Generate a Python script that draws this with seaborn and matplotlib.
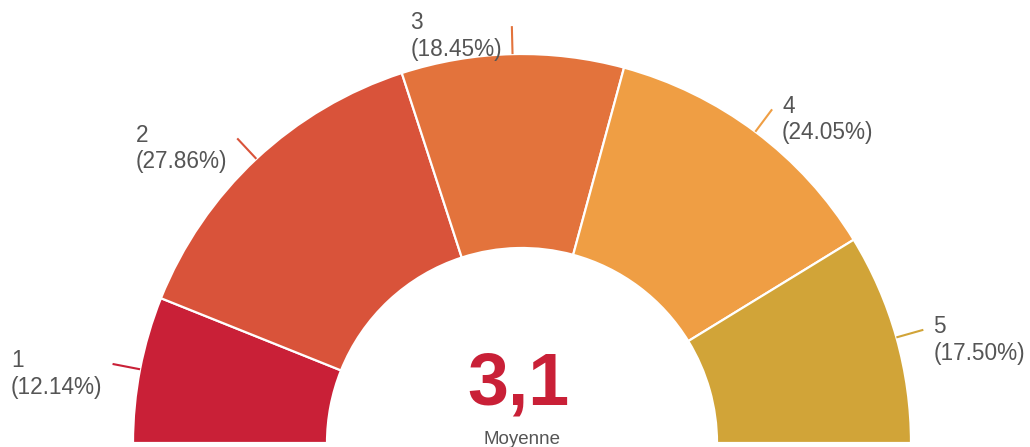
import numpy as np
import matplotlib
matplotlib.use("Agg")
import matplotlib.pyplot as plt
import seaborn as sns

# data
categories = ["1", "2", "3", "4", "5"]
percents = [12.14, 27.86, 18.45, 24.05, 17.50]
colors = ["#C92037", "#D9533A", "#E3733C", "#EF9E44", "#D1A438"]
mean_label = "3,1"
mean_caption = "Moyenne"

sns.set_theme(style="white")
plt.rcParams["font.family"] = ["Liberation Sans", "DejaVu Sans"]

fig = plt.figure(figsize=(10.30, 4.47), dpi=100)
ax = fig.add_axes([0, 0, 1, 1])

cx, cy = 522, 4
r_out = 389
r_in = 195

# the hidden wedge fills the lower half so the visible ones span 180 degrees
vals = percents + [sum(percents)]
cols = colors + ["none"]
wedges, _ = ax.pie(vals, colors=cols, startangle=180, counterclock=False,
                   center=(cx, cy), radius=r_out, frame=False,
                   wedgeprops=dict(width=r_out - r_in, edgecolor="white", linewidth=1.6))
wedges[-1].set_edgecolor("none")
wedges[-1].set_facecolor("none")

for w, cat, p, c in zip(wedges[:-1], categories, percents, colors):
    ang = np.deg2rad((w.theta1 + w.theta2) / 2)
    x0, y0 = cx + r_out * np.cos(ang), cy + r_out * np.sin(ang)
    x1, y1 = cx + 417 * np.cos(ang), cy + 417 * np.sin(ang)
    ax.plot([x0, x1], [y0, y1], color=c, lw=1.5, solid_capstyle="butt")
    if np.cos(ang) < 0:
        tx, ha = x1 - 10, "right"
    else:
        tx, ha = x1 + 10, "left"
    ax.text(tx, y1 - 10, f"{cat}\n({p:.2f}%)", ha=ha, va="center",
            multialignment="left", fontsize=16.3, color="#555555", linespacing=1.2)

ax.text(cx - 4, 62, mean_label, ha="center", va="center", fontsize=53,
        fontweight="bold", color="#C92037")
ax.text(cx, 8, mean_caption, ha="center", va="center", fontsize=13.5, color="#555555")

ax.set_xlim(0, 1030)
ax.set_ylim(0, 447)
ax.set_aspect("equal")
ax.axis("off")

fig.savefig("out.png", dpi=100, facecolor="white")
